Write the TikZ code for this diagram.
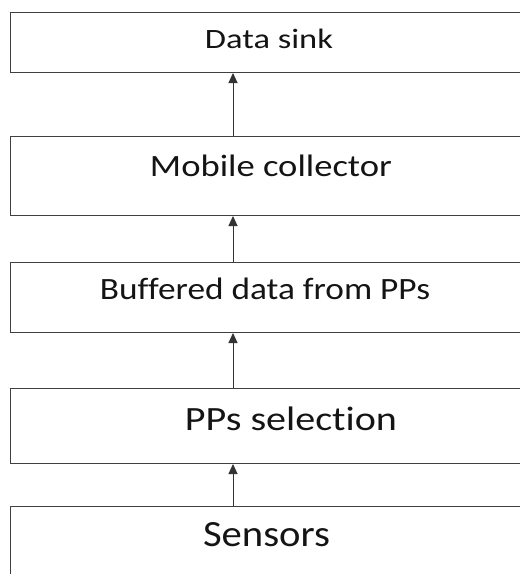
\documentclass[tikz,border=0pt]{standalone}
\usepackage{fontspec}
\setmainfont{Carlito}[Ligatures={NoCommon}, RawFeature={-liga;-clig}]
\usetikzlibrary{arrows.meta}
% set a label at a given size and stretch it to a given width
\newcommand\widelabel[3]{\fontsize{#1}{#1}\selectfont\resizebox{#2}{\height}{#3}}
\begin{document}
\begin{tikzpicture}[x=1pt,y=-1pt,
  stage/.style={draw=black!75, line width=1pt, rectangle, inner sep=0pt,
    minimum width=522pt, anchor=north west},
  caption/.style={anchor=base, inner sep=0pt, text=black!92},
  flow/.style={draw=black!80, line width=1pt, -{Triangle[length=10pt,width=9pt]}}]
\useasboundingbox (0,0) rectangle (520,574);
\clip (0,0) rectangle (520,574);
% stage boxes
\node[stage, minimum height=60pt] (sink) at (10,12) {};
\node[stage, minimum height=79pt] (mc)   at (10,136) {};
\node[stage, minimum height=70pt] (buf)  at (10,262) {};
\node[stage, minimum height=75pt] (sel)  at (10,388) {};
\node[stage, minimum height=90pt] (sen)  at (10,506) {};
% stage names
\node[caption] (tsink) at (269,48)  {\widelabel{28}{128pt}{Data sink}};
\node[caption] (tmc)   at (271,176) {\widelabel{31}{242pt}{Mobile collector}};
\node[caption] (tbuf)  at (265,299) {\widelabel{31}{330pt}{Buffered data from PPs}};
\node[caption] (tsel)  at (291,430) {\widelabel{34}{212pt}{PPs selec\kern0pt tion}};
\node[caption] (tsen)  at (266.5,546) {\widelabel{37}{127pt}{Sensors}};
% upward flow between stages
\coordinate (col) at (233,0);
\draw[flow] (sen.north -| col) -- (sel.south -| col);
\draw[flow] (sel.north -| col) -- (buf.south -| col);
\draw[flow] (buf.north -| col) -- (mc.south -| col);
\draw[flow] (mc.north -| col) -- (sink.south -| col);
\end{tikzpicture}
\end{document}
